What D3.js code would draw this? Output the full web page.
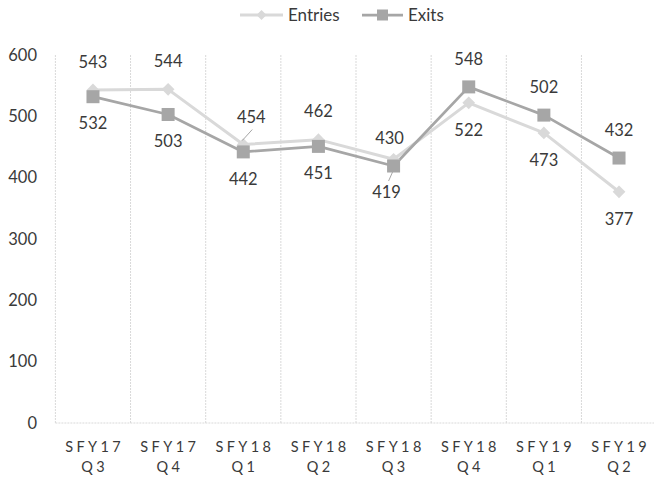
<!DOCTYPE html>
<html><head><meta charset="utf-8">
<script src="https://cdn.jsdelivr.net/npm/d3@7"></script>
<style>
html,body{margin:0;padding:0;background:#fff;}
svg{display:block;}
text{font-family:"Lato","Open Sans",sans-serif;fill:#3a3a3a;}
</style></head>
<body>
<svg id="chart" width="654" height="479"></svg>
<script>
const categories = [["SFY17","Q3"],["SFY17","Q4"],["SFY18","Q1"],["SFY18","Q2"],["SFY18","Q3"],["SFY18","Q4"],["SFY19","Q1"],["SFY19","Q2"]];
const entries = [543, 544, 454, 462, 430, 522, 473, 377];
const exits   = [532, 503, 442, 451, 419, 548, 502, 432];
const yTicks = [0, 100, 200, 300, 400, 500, 600];
const entriesLabelPos = ["above","above","above","above","above","below","below","below"];
const exitsLabelPos   = ["below","below","below","below","below","above","above","above"];

const svg = d3.select("#chart");
const x = d3.scaleBand().domain(d3.range(categories.length)).range([55.4, 656.6]).padding(0);
const y = d3.scaleLinear().domain([0, 600]).range([423, 55]);
const cx = i => x(i) + x.bandwidth() / 2;

// vertical gridlines
const grid = svg.append("g");
d3.range(categories.length + 1).forEach(i => {
  const gx = i < categories.length ? x(i) : x(categories.length - 1) + x.bandwidth();
  grid.append("line").attr("x1", gx).attr("x2", gx).attr("y1", y(600)).attr("y2", y(0))
    .attr("stroke", "#d9d9d9").attr("stroke-width", 1).attr("stroke-dasharray", "2,1");
});
grid.append("line").attr("x1", x(0)).attr("x2", 654).attr("y1", y(0)).attr("y2", y(0))
  .attr("stroke", "#d9d9d9").attr("stroke-width", 1).attr("stroke-dasharray", "2,1");

// y axis labels
const yAxis = d3.axisLeft(y).tickValues(yTicks).tickSize(0).tickPadding(0);
const ya = svg.append("g").attr("transform", "translate(37,0)").call(yAxis);
ya.select(".domain").remove();
ya.selectAll("text").attr("font-size", 16.5).attr("fill", "#3a3a3a").attr("font-family", "Lato, sans-serif");

// x axis labels
const xl = svg.append("g");
categories.forEach((c, i) => {
  const t = xl.append("text").attr("text-anchor", "middle")
    .attr("font-size", 14.5).attr("letter-spacing", "3.4px").attr("fill", "#3a3a3a");
  t.append("tspan").attr("x", cx(i) + 1.7).attr("y", 452).text(c[0]);
  t.append("tspan").attr("x", cx(i) + 1.7).attr("y", 472).text(c[1]);
});

const line = d3.line().x((d, i) => cx(i)).y(d => y(d));

// Entries
svg.append("path").datum(entries).attr("d", line).attr("fill", "none")
  .attr("stroke", "#d9d9d9").attr("stroke-width", 3).attr("stroke-linejoin", "round");
// Exits
svg.append("path").datum(exits).attr("d", line).attr("fill", "none")
  .attr("stroke", "#a6a6a6").attr("stroke-width", 2.75).attr("stroke-linejoin", "round");

svg.append("g").selectAll("path").data(entries).join("path")
  .attr("d", d3.symbol().type(d3.symbolSquare).size(81))
  .attr("transform", (d, i) => `translate(${cx(i)},${y(d)}) rotate(45)`)
  .attr("fill", "#d9d9d9");
svg.append("g").selectAll("rect").data(exits).join("rect")
  .attr("x", (d, i) => cx(i) - 6.5).attr("y", d => y(d) - 6.5)
  .attr("width", 13).attr("height", 13).attr("fill", "#a6a6a6");

// data labels
const nudgeEntries = {2: [8, -27], 4: [-4, -21]};
const nudgeExits = {4: [-7, 26]};
function labels(data, pos, nudge) {
  const g = svg.append("g");
  data.forEach((d, i) => {
    let lx = cx(i), ly = y(d) + (pos[i] === "above" ? -28 : 27);
    if (nudge[i]) { lx = cx(i) + nudge[i][0]; ly = y(d) + nudge[i][1]; }
    g.append("text").attr("x", lx).attr("y", ly).attr("dy", "0.35em")
      .attr("text-anchor", "middle").attr("font-size", 16.5).attr("fill", "#3a3a3a").text(d);
  });
  return g;
}
labels(entries, entriesLabelPos, nudgeEntries);
labels(exits, exitsLabelPos, nudgeExits);
// leader lines
svg.append("line").attr("x1", cx(2) + 9).attr("y1", y(entries[2]) - 15)
  .attr("x2", cx(2) - 1).attr("y2", y(entries[2]) - 4).attr("stroke", "#a6a6a6").attr("stroke-width", 1);
svg.append("line").attr("x1", cx(4) - 5).attr("y1", y(exits[4]) + 15)
  .attr("x2", cx(4) - 1).attr("y2", y(exits[4]) + 6).attr("stroke", "#a6a6a6").attr("stroke-width", 1);

// legend
const lg = svg.append("g");
lg.append("line").attr("x1", 240).attr("x2", 283).attr("y1", 15).attr("y2", 15)
  .attr("stroke", "#d9d9d9").attr("stroke-width", 3);
lg.append("path").attr("d", d3.symbol().type(d3.symbolSquare).size(50))
  .attr("transform", "translate(261.5,15) rotate(45)").attr("fill", "#d9d9d9");
lg.append("text").attr("x", 288).attr("y", 15).attr("dy", "0.35em").attr("font-size", 17).text("Entries");
lg.append("line").attr("x1", 362).attr("x2", 403).attr("y1", 15).attr("y2", 15)
  .attr("stroke", "#a6a6a6").attr("stroke-width", 2.75);
lg.append("rect").attr("x", 377).attr("y", 9.5).attr("width", 11).attr("height", 11).attr("fill", "#a6a6a6");
lg.append("text").attr("x", 408).attr("y", 15).attr("dy", "0.35em").attr("font-size", 17).text("Exits");
</script>
</body></html>
